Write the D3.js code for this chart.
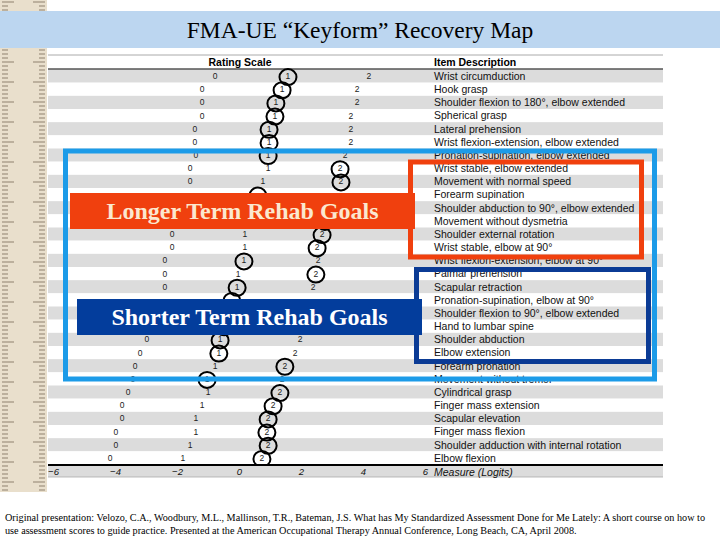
<!DOCTYPE html>
<html><head><meta charset="utf-8">
<script src="https://cdn.jsdelivr.net/npm/d3@7"></script>
<style>body{margin:0;background:#fff}svg{display:block}</style>
</head><body>
<svg id="c" width="720" height="540"></svg>
<script>
const items = ["Wrist circumduction","Hook grasp","Shoulder flexion to 180°, elbow extended","Spherical grasp","Lateral prehension","Wrist flexion-extension, elbow extended","Pronation-supination, elbow extended","Wrist stable, elbow extended","Movement with normal speed","Forearm supination","Shoulder abduction to 90°, elbow extended","Movement without dysmetria","Shoulder external rotation","Wrist stable, elbow at 90°","Wrist flexion-extension, elbow at 90°","Palmar prehension","Scapular retraction","Pronation-supination, elbow at 90°","Shoulder flexion to 90°, elbow extended","Hand to lumbar spine","Shoulder abduction","Elbow extension","Forearm pronation","Movement without tremor","Cylindrical grasp","Finger mass extension","Scapular elevation","Finger mass flexion","Shoulder adduction with internal rotation","Elbow flexion"];
const rating0 = [-0.77,-1.19,-1.19,-1.19,-1.42,-1.42,-1.39,-1.58,-1.58,-1.74,-1.90,-1.97,-2.16,-2.16,-2.39,-2.39,-2.39,-2.61,-2.77,-2.87,-2.97,-3.19,-3.35,-3.42,-3.58,-3.77,-3.77,-3.97,-3.97,-4.16];
const rating1 = [1.58,1.39,1.19,1.16,0.97,0.97,0.94,0.94,0.77,0.61,0.42,0.35,0.19,0.19,0.16,-0.03,-0.06,-0.23,-0.35,-0.48,-0.61,-0.65,-0.77,-1.03,-1.00,-1.19,-1.39,-1.39,-1.58,-1.81];
const rating2 = [4.19,3.81,3.81,3.61,3.61,3.61,3.42,3.26,3.29,3.10,2.87,2.77,2.68,2.52,2.55,2.48,2.39,2.23,2.13,2.03,1.97,1.81,1.48,1.39,1.32,1.10,0.94,0.90,0.94,0.74];
const circled = [1,1,1,1,1,1,1,2,2,1,2,2,2,2,1,2,1,1,1,1,1,1,2,1,2,2,2,2,2,2];
const axisTicks = [-6,-4,-2,0,2,4,6];
const titleText = "FMA-UE \u201CKeyform\u201D Recovery Map";
const headerRating = "Rating Scale", headerItem = "Item Description", axisTitle = "Measure (Logits)";
const longLabel = "Longer Term Rehab Goals", shortLabel = "Shorter Term Rehab Goals";
const footer = ["Original presentation: Velozo, C.A., Woodbury, M.L., Mallinson, T.R., Bateman, J.S. What has My Standardized Assessment Done for Me Lately: A short course on how to",
"use assessment scores to guide practice. Presented at the American Occupational Therapy Annual Conference, Long Beach, CA, April 2008."];

const svg = d3.select("#c");
const x = d3.scaleLinear().domain([-6,6]).range([53,425]);
const y = d3.scaleBand().domain(items).range([69.5,464.5]);
const tblL = 48, tblR = 663;

// label boxes geometry (drawn last, on top)
const labelBoxes = [
  {x:70, y:193, w:345, h:36, fill:"#f0400e", color:"#fbe8cf", text:longLabel},
  {x:77, y:299, w:345, h:36, fill:"#033d9c", color:"#ffffff", text:shortLabel}
];
const hidden = (px,py)=>labelBoxes.some(b=>px>b.x-4 && px<b.x+b.w+4 && py>b.y-2 && py<b.y+b.h+2);

// left ruler strip
svg.append("rect").attr("x",0).attr("y",0).attr("width",47).attr("height",492).attr("fill","#e9dfcc");
const rt = svg.append("g").attr("stroke","#6b5a45").attr("stroke-width",0.7);
d3.range(2,492,4).forEach((v,i)=>{
  const len = i%5===0 ? 12 : 6;
  rt.append("line").attr("x1",2).attr("x2",2+len).attr("y1",v).attr("y2",v);
  rt.append("line").attr("x1",45-len).attr("x2",45).attr("y1",v).attr("y2",v);
});

// title bar
svg.append("rect").attr("x",0).attr("y",11).attr("width",720).attr("height",37).attr("fill","#bcd6f0");
svg.append("text").attr("x",360).attr("y",38).attr("text-anchor","middle")
  .attr("font-family","Liberation Serif, Times New Roman, serif").attr("font-size",23.5).attr("fill","#000").text(titleText);

// table
svg.append("rect").attr("x",tblL).attr("y",55).attr("width",tblR-tblL).attr("height",14.5).attr("fill","#fff");
svg.append("line").attr("x1",tblL).attr("x2",tblR).attr("y1",55).attr("y2",55).attr("stroke","#aaa").attr("stroke-width",1);
svg.append("text").attr("x",240).attr("y",66).attr("text-anchor","middle").attr("font-family","Liberation Sans, Arial, sans-serif")
  .attr("font-weight","bold").attr("font-size",10.5).text(headerRating);
svg.append("text").attr("x",434).attr("y",66).attr("font-family","Liberation Sans, Arial, sans-serif")
  .attr("font-weight","bold").attr("font-size",10.5).text(headerItem);

svg.append("g").selectAll("rect").data(items).join("rect")
  .attr("x",tblL).attr("width",tblR-tblL).attr("y",d=>y(d)).attr("height",y.bandwidth())
  .attr("fill",(d,i)=> i%2===0 ? "#dcdcdc" : "#ffffff");
svg.append("line").attr("x1",tblL).attr("x2",tblR).attr("y1",69).attr("y2",69).attr("stroke","#000").attr("stroke-width",1.2);

svg.append("g").selectAll("text").data(items).join("text")
  .attr("x",434).attr("y",d=>y(d)+y.bandwidth()/2+3.8)
  .attr("font-family","Liberation Sans, Arial, sans-serif").attr("font-size",10.5).attr("fill","#111")
  .text(d=>d);

// rating numbers
const ratingRows = items.map((d,i)=>({item:d, vals:[rating0[i],rating1[i],rating2[i]], c:circled[i]}));
const rg = svg.append("g").attr("font-family","Liberation Sans, Arial, sans-serif").attr("font-size",8.5).attr("fill","#222").attr("text-anchor","middle");
ratingRows.forEach(r=>{
  const cy = y(r.item)+y.bandwidth()/2;
  r.vals.forEach((v,k)=>{
    if (hidden(x(v), cy)) return;
    rg.append("text").attr("x",x(v)).attr("y",cy+3).text(k);
  });
});
// circled ratings
svg.append("g").selectAll("ellipse").data(ratingRows).join("ellipse")
  .attr("cx",d=>x(d.vals[d.c])).attr("cy",d=>y(d.item)+y.bandwidth()/2+1)
  .attr("rx",8.5).attr("ry",8).attr("fill","none").attr("stroke","#000").attr("stroke-width",2);

// axis row
svg.append("rect").attr("x",tblL).attr("y",465).attr("width",tblR-tblL).attr("height",12).attr("fill","#dcdcdc");
svg.append("line").attr("x1",tblL).attr("x2",tblR).attr("y1",477).attr("y2",477).attr("stroke","#aaa").attr("stroke-width",0.8);
const ax = svg.append("g").attr("transform","translate(0,465)")
  .call(d3.axisBottom(x).tickValues(axisTicks).tickSize(0).tickPadding(3).tickFormat(d=>d<0?"\u2212"+Math.abs(d):d));
ax.select(".domain").attr("stroke","#000").attr("stroke-width",2).attr("d",`M${tblL},0H${tblR}`);
ax.selectAll("text").attr("font-family","Liberation Sans, Arial, sans-serif").attr("font-style","italic").attr("font-size",9.5).attr("fill","#111");
svg.append("text").attr("x",434).attr("y",475.5).attr("font-family","Liberation Sans, Arial, sans-serif")
  .attr("font-style","italic").attr("font-size",10.5).attr("fill","#111").text(axisTitle);

// overlay boxes
svg.append("rect").attr("x",65.5).attr("y",151).attr("width",589).attr("height",228)
  .attr("fill","none").attr("stroke","#1c9be8").attr("stroke-width",5);
svg.append("rect").attr("x",410.5).attr("y",162).attr("width",231).attr("height",95)
  .attr("fill","none").attr("stroke","#f0400e").attr("stroke-width",5);
svg.append("rect").attr("x",416.5).attr("y",269.5).attr("width",232).attr("height",92)
  .attr("fill","none").attr("stroke","#0b3b95").attr("stroke-width",5);

// label boxes
labelBoxes.forEach(b=>{
  svg.append("rect").attr("x",b.x).attr("y",b.y).attr("width",b.w).attr("height",b.h).attr("fill",b.fill);
  svg.append("text").attr("x",b.x+b.w/2).attr("y",b.y+b.h/2+8).attr("text-anchor","middle")
    .attr("font-family","Liberation Serif, Times New Roman, serif").attr("font-weight","bold").attr("font-size",24)
    .attr("fill",b.color).text(b.text);
});

// footer
svg.append("g").selectAll("text").data(footer).join("text")
  .attr("x",5).attr("y",(d,i)=>521+i*12.5)
  .attr("font-family","Liberation Serif, Times New Roman, serif").attr("font-size",10.2).attr("fill","#000")
  .attr("textLength",(d,i)=> i===0 ? 700 : null).attr("lengthAdjust","spacingAndGlyphs")
  .text(d=>d);
</script>
</body></html>
